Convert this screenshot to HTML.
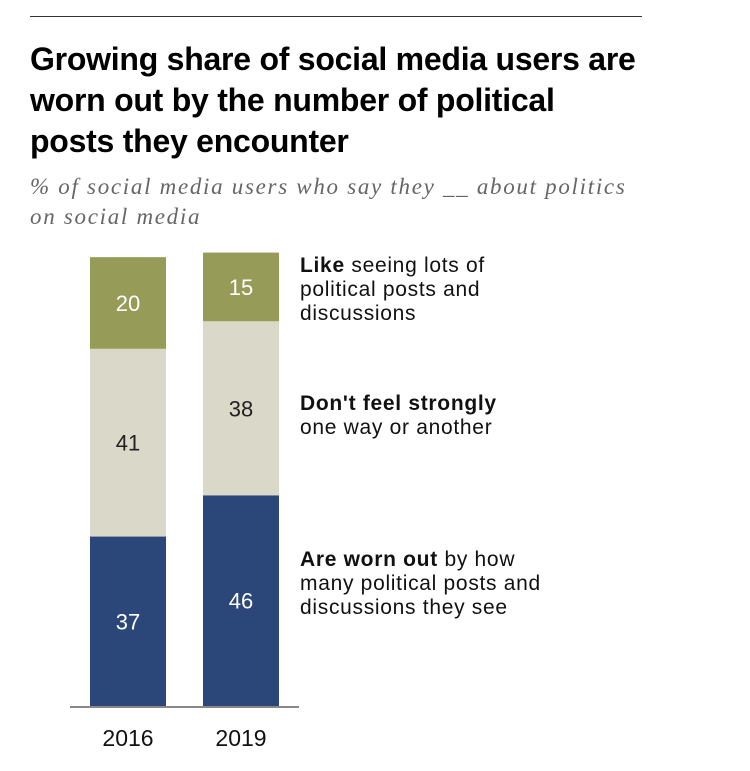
<!DOCTYPE html>
<html><head><meta charset="utf-8"><style>
body{margin:0;background:#fff;width:750px;height:771px;overflow:hidden;font-family:"Liberation Sans",sans-serif}
.rule{position:absolute;left:30px;top:16px;width:612px;height:1px;background:#333}
.title{position:absolute;left:30px;top:39px;width:700px;font-weight:bold;font-size:32px;line-height:41px;color:#000;letter-spacing:-0.25px;white-space:nowrap}
.sub{position:absolute;left:30px;top:172px;font-family:"Liberation Serif",serif;font-style:italic;font-size:23px;line-height:30px;color:#666;letter-spacing:1.7px;white-space:nowrap}
svg{position:absolute;left:0;top:0}
</style></head><body>
<div class="rule"></div>
<div class="title">Growing share of social media users are<br>worn out by the number of political<br>posts they encounter</div>
<div class="sub">% of social media users who say they __ about politics<br>on social media</div>
<svg id="chart" width="750" height="771"></svg>
<script>
const years=["2016","2019"];
const wornOut=[37,46];
const neutral=[41,38];
const like=[20,15];
const seriesVals=[wornOut,neutral,like];
const seriesNames=["worn-out","dont-feel-strongly","like-seeing"];
const colors=["#2b4779","#dad8c9","#969c58"];
const textColors=["#fff","#222","#fff"];
const NS="http://www.w3.org/2000/svg";
const svg=document.getElementById('chart');
const baseY=706, scale=4.58, barW=76;
const xPos=i=>90+i*113;
const yS=v=>v*scale;
function mk(t,a,p){const e=document.createElementNS(NS,t);for(const k in a)e.setAttribute(k,a[k]);(p||svg).appendChild(e);return e;}
years.forEach((yr,i)=>{
  let cum=0;
  seriesVals.forEach((arr,s)=>{
    const v=arr[i];
    const y0=baseY-yS(cum+v);
    const r=mk('rect',{x:xPos(i),y:y0,width:barW,height:yS(v),fill:colors[s]});
    
    
    const t=mk('text',{x:xPos(i)+barW/2,y:y0+yS(v)/2+8,'text-anchor':'middle','font-size':'22',fill:textColors[s],'font-family':'Liberation Sans, sans-serif'});
    t.textContent=v;
    
    
    cum+=v;
  });
  const yl=mk('text',{x:xPos(i)+barW/2,y:746,'text-anchor':'middle','font-size':'23',fill:'#111','font-family':'Liberation Sans, sans-serif'});
  yl.textContent=yr;
  
  
});
const base=mk('line',{x1:70,x2:299,y1:baseY+1,y2:baseY+1,stroke:'#888','stroke-width':2});


const legend=[
 {y:272,lines:[["Like"," seeing lots of"],["","political posts and"],["","discussions"]],n:'legend-like'},
 {y:410,lines:[["Don't feel strongly",""],["","one way or another"]],n:'legend-neutral'},
 {y:566,lines:[["Are worn out"," by how"],["","many political posts and"],["","discussions they see"]],n:'legend-worn-out'}
];
legend.forEach(L=>{
  L.lines.forEach((ln,k)=>{
    const t=mk('text',{x:300,y:L.y+k*24,'font-size':'21','letter-spacing':'0.7',fill:'#111','font-family':'Liberation Sans, sans-serif'});
    
    
    if(ln[0]){const b=mk('tspan',{'font-weight':'bold'},t);b.textContent=ln[0];}
    if(ln[1]){const r=mk('tspan',{},t);r.textContent=ln[1];}
  });
});
</script>
</body></html>
